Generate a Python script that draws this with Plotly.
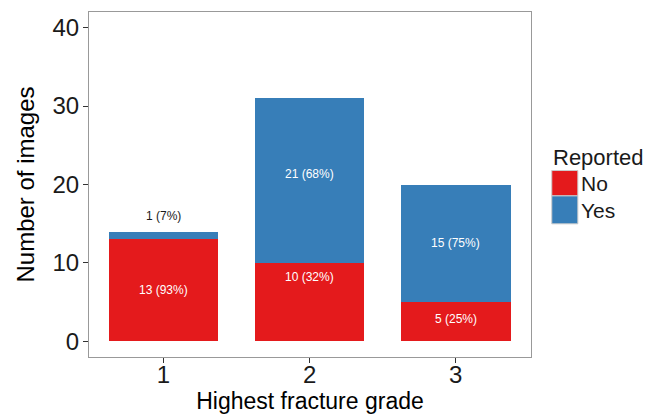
import plotly.graph_objects as go

grades = [1, 2, 3]
grade_labels = ["1", "2", "3"]
no_counts = [13, 10, 5]
yes_counts = [1, 21, 15]
no_text = ["13 (93%)", "10 (32%)", "5 (25%)"]
yes_text = ["1 (7%)", "21 (68%)", "15 (75%)"]
no_label_y = [6.6, 8.2, 2.9]
yes_label_y = [16.0, 21.4, 12.6]
y_ticks = [0, 10, 20, 30, 40]

RED = "#E41A1C"
BLUE = "#377EB8"
FONT = "Liberation Sans, Arial, sans-serif"

fig = go.Figure()
fig.add_trace(go.Bar(x=grades, y=no_counts, width=0.75, name="No",
                     marker=dict(color=RED, line=dict(width=0)), showlegend=False,
                     hoverinfo="x+y+name"))
fig.add_trace(go.Bar(x=grades, y=yes_counts, width=0.75, name="Yes",
                     marker=dict(color=BLUE, line=dict(width=0)), showlegend=False,
                     hoverinfo="x+y+name"))

annotations = []
for g, t, y in zip(grades, no_text, no_label_y):
    annotations.append(dict(x=g, y=y, text=t, showarrow=False,
                            font=dict(family=FONT, size=12, color="white")))
for g, t, y, n in zip(grades, yes_text, yes_label_y, yes_counts):
    col = "#1a1a1a" if n < 3 else "white"
    annotations.append(dict(x=g, y=y, text=t, showarrow=False,
                            font=dict(family=FONT, size=12, color=col)))

# manual legend
annotations.append(dict(xref="paper", yref="paper", x=1.046, y=0.578, xanchor="left",
                        yanchor="middle", text="Reported", showarrow=False,
                        font=dict(family=FONT, size=22, color="#1a1a1a")))
for lbl, yc in [("No", 0.503), ("Yes", 0.424)]:
    annotations.append(dict(xref="paper", yref="paper", x=1.108, y=yc, xanchor="left",
                            yanchor="middle", text=lbl, showarrow=False,
                            font=dict(family=FONT, size=21, color="#1a1a1a")))
shapes = [
    dict(type="rect", xref="paper", yref="paper", x0=1.047, x1=1.106, y0=0.467, y1=0.5405,
         fillcolor=RED, line=dict(color="#cccccc", width=1)),
    dict(type="rect", xref="paper", yref="paper", x0=1.047, x1=1.106, y0=0.386, y1=0.467,
         fillcolor=BLUE, line=dict(color="#cccccc", width=1)),
]

# the page body has an 8px margin, so the figure is sized to fill the rest of the window
fig.update_layout(
    barmode="stack",
    width=654, height=406,
    margin=dict(l=81, r=131, t=4, b=57, autoexpand=False),
    paper_bgcolor="white", plot_bgcolor="white",
    font=dict(family=FONT, color="#1a1a1a"),
    annotations=annotations,
    shapes=shapes,
    xaxis=dict(range=[0.49, 3.515], tickvals=grades, ticktext=grade_labels,
               automargin=False,
               showgrid=False, zeroline=False, showline=True, mirror=True,
               linecolor="#999999", linewidth=1, ticks="outside", ticklen=5,
               tickcolor="#333333", tickfont=dict(size=24, color="#1a1a1a"),
               ticklabelstandoff=-9,
               title=dict(text="Highest fracture grade", font=dict(size=23, color="#000000"),
                          standoff=2)),
    yaxis=dict(range=[-2, 42], tickvals=y_ticks, showgrid=False, zeroline=False,
               automargin=False,
               showline=True, mirror=True, linecolor="#999999", linewidth=1,
               ticks="outside", ticklen=5, tickcolor="#333333",
               tickfont=dict(size=24, color="#1a1a1a"),
               ticklabelstandoff=-1,
               title=dict(text="Number of images", font=dict(size=24, color="#000000"),
                          standoff=11)),
)

fig.write_html("out.html")
